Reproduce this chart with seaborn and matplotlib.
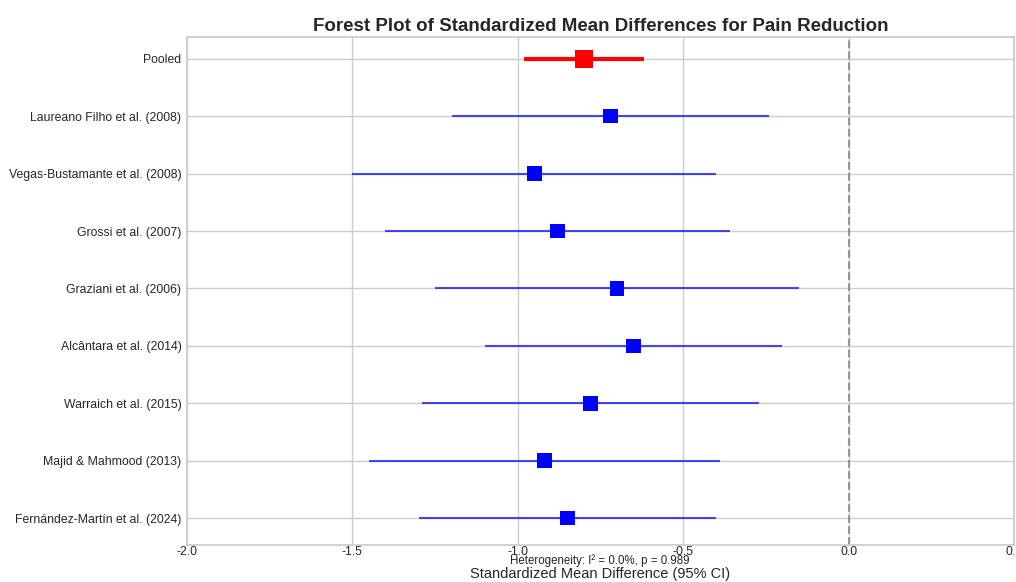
import matplotlib
matplotlib.use("Agg")
import matplotlib.pyplot as plt
import seaborn as sns
import pandas as pd
import numpy as np

studies = ["Pooled", "Laureano Filho et al. (2008)", "Vegas-Bustamante et al. (2008)",
           "Grossi et al. (2007)", "Graziani et al. (2006)", "Alcântara et al. (2014)",
           "Warraich et al. (2015)", "Majid & Mahmood (2013)", "Fernández-Martín et al. (2024)"]
smd = [-0.80, -0.72, -0.95, -0.88, -0.70, -0.65, -0.78, -0.92, -0.85]
ci_low = [-0.98, -1.20, -1.50, -1.40, -1.25, -1.10, -1.29, -1.45, -1.30]
ci_high = [-0.62, -0.24, -0.40, -0.36, -0.15, -0.20, -0.27, -0.39, -0.40]
i2 = 0.0
p_het = 0.989

sns.set_theme(style="whitegrid")
plt.rcParams['font.family'] = ['Liberation Sans', 'DejaVu Sans']

df = pd.DataFrame({"study": studies, "smd": smd, "lo": ci_low, "hi": ci_high})
df["pos"] = np.arange(len(df))
df["kind"] = ["Pooled"] + ["Study"] * (len(df) - 1)

fig = plt.figure(figsize=(10.16, 5.82), dpi=100)
ax = fig.add_axes([187/1016, 1 - 545/582, (1014-187)/1016, (545-37)/582])

st = df[df.kind == "Study"]
pl = df[df.kind == "Pooled"]
ax.hlines(st.pos, st.lo, st.hi, color="blue", alpha=0.7, lw=1.5, zorder=2)
ax.hlines(pl.pos, pl.lo, pl.hi, color="red", lw=3, zorder=2)
sns.scatterplot(data=st, x="smd", y="pos", marker="s", color="blue", s=110,
                edgecolor="none", ax=ax, zorder=3, legend=False)
sns.scatterplot(data=pl, x="smd", y="pos", marker="s", color="red", s=170,
                edgecolor="none", ax=ax, zorder=3, legend=False)
ax.axvline(0, color="gray", ls="--", lw=1.5, alpha=0.8, zorder=1)

ax.set_xlim(-2.0, 0.5)
ax.set_ylim(len(df) - 1 + 0.47, -0.38)
ax.set_yticks(df.pos)
ax.set_yticklabels(studies, fontsize=8.8)
ax.set_xticks([-2.0, -1.5, -1.0, -0.5, 0.0, 0.5])
ax.set_xticklabels(["-2.0", "-1.5", "-1.0", "-0.5", "0.0", "0.5"], fontsize=8.8)
ax.tick_params(axis="x", length=0, pad=1)
ax.tick_params(axis="y", length=0, pad=4)
ax.set_xlabel("Standardized Mean Difference (95% CI)", fontsize=10.5, labelpad=6)
ax.set_ylabel("")
ax.set_title("Forest Plot of Standardized Mean Differences for Pain Reduction",
             fontsize=13.5, fontweight="bold", pad=4)
for s in ax.spines.values():
    s.set_color("#cccccc")
fig.text(600/1016, 1 - 561/582, f"Heterogeneity: I² = {i2:.1f}%, p = {p_het:.3f}",
         ha="center", va="center", fontsize=8.3)
fig.savefig("out.png", dpi=100)
